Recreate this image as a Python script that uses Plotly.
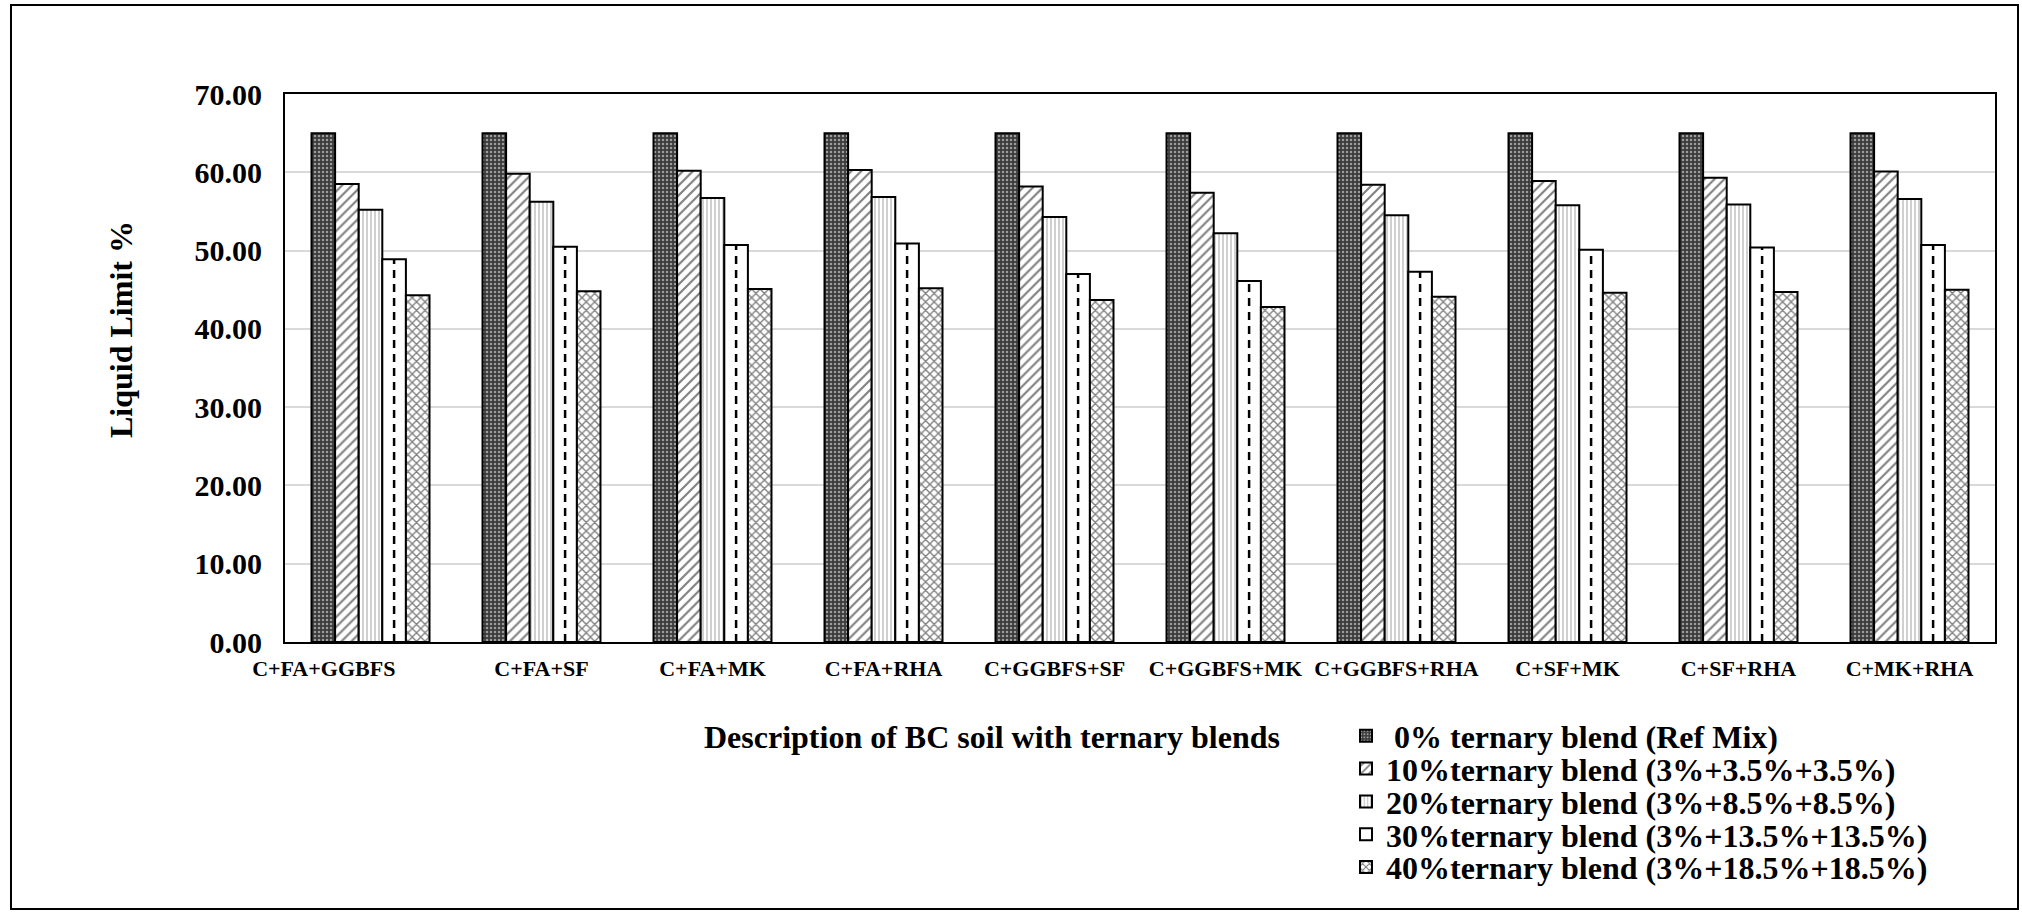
import plotly.graph_objects as go

# ---------------- data ----------------
categories = ["C+FA+GGBFS", "C+FA+SF", "C+FA+MK", "C+FA+RHA", "C+GGBFS+SF",
              "C+GGBFS+MK", "C+GGBFS+RHA", "C+SF+MK", "C+SF+RHA", "C+MK+RHA"]
ref_mix = [65.0, 65.0, 65.0, 65.0, 65.0, 65.0, 65.0, 65.0, 65.0, 65.0]
blend10 = [58.5, 59.8, 60.2, 60.3, 58.2, 57.4, 58.4, 58.9, 59.3, 60.1]
blend20 = [55.2, 56.25, 56.7, 56.85, 54.3, 52.2, 54.5, 55.8, 55.9, 56.6]
blend30 = [48.9, 50.5, 50.7, 50.9, 47.0, 46.1, 47.3, 50.1, 50.4, 50.7]
blend40 = [44.3, 44.8, 45.1, 45.2, 43.7, 42.8, 44.1, 44.6, 44.7, 45.0]
series_names = ["\u00a00% ternary blend (Ref Mix)",
                "10%ternary blend (3%+3.5%+3.5%)",
                "20%ternary blend (3%+8.5%+8.5%)",
                "30%ternary blend (3%+13.5%+13.5%)",
                "40%ternary blend (3%+18.5%+18.5%)"]
y_tick_values = [0, 10, 20, 30, 40, 50, 60, 70]
x_title = "Description of BC soil with ternary blends"
y_title = "Liquid Limit %"

# ---------------- layout constants (pixels) ----------------
W, H = 2022, 912
# plot area wanted in page pixels: x 285..1995, y 94..642
ML, MT = 285, 94
MR = W - 1995
MB = H - 642
PW, PH = W - ML - MR, H - MT - MB
BARGAP = 0.31
FONT = "Liberation Serif, Times New Roman, serif"


def px_x(px):
    return (px - ML) / PW


def px_y(py):
    return (H - MB - py) / PH


series = [ref_mix, blend10, blend20, blend30, blend40]
patterns = [
    dict(shape=".", fgcolor="white", bgcolor="#3c3c3c", size=4, solidity=0.3),
    dict(shape="/", fgcolor="black", bgcolor="white", size=7, solidity=0.3),
    dict(shape="|", fgcolor="#8a8a8a", bgcolor="white", size=4, solidity=0.4),
    dict(shape="", fgcolor="black", bgcolor="white"),
    dict(shape="x", fgcolor="black", bgcolor="white", size=6, solidity=0.4),
]
legend_ids = ["legend", "legend2", "legend3", "legend4", "legend5"]

xs = list(range(len(categories)))
fig = go.Figure()
for k, (vals, name, pat) in enumerate(zip(series, series_names, patterns)):
    fig.add_trace(go.Bar(
        x=xs, y=vals, name=name,
        marker=dict(color="white", pattern=pat, line=dict(color="black", width=2)),
        legend=legend_ids[k],
    ))

# dashed centre line inside the 30% bars
nser = len(series)
w = (1 - BARGAP) / nser
dx, dy = [], []
for i, v in zip(xs, blend30):
    xc = i + (3 - (nser - 1) / 2) * w
    dx += [xc, xc, None]
    dy += [0, v, None]
fig.add_trace(go.Scatter(x=dx, y=dy, mode="lines", showlegend=False, hoverinfo="skip",
                         line=dict(color="black", width=2.5, dash="8px,6px")))

ticktext = [categories[0] + "\u00a0" * 17] + categories[1:]

fig.update_layout(
    width=W, height=H,
    margin=dict(l=ML, r=MR, t=MT, b=MB, autoexpand=False),
    paper_bgcolor="white", plot_bgcolor="white",
    barmode="group", bargap=BARGAP, bargroupgap=0,
    font=dict(family=FONT, color="black"),
    xaxis=dict(range=[-0.5, len(categories) - 0.5], tickvals=xs, ticktext=ticktext,
               tickfont=dict(family=FONT, size=22, weight="bold", color="black"),
               showline=True, mirror=True, linecolor="black", linewidth=2,
               showgrid=False, zeroline=False, ticks="", ticklabelstandoff=6,
               automargin=False),
    yaxis=dict(range=[0, 70], tickvals=y_tick_values, tickformat=".2f",
               tickfont=dict(family=FONT, size=30, weight="bold", color="black"),
               showline=True, mirror=True, linecolor="black", linewidth=2,
               showgrid=True, gridcolor="#d9d9d9", gridwidth=2, zeroline=False,
               ticks="", ticklabelstandoff=15, automargin=False),
    showlegend=True,
)

row0 = 736.0
row_step = 32.8
for k, lid in enumerate(legend_ids):
    fig.update_layout({lid: dict(
        x=px_x(1346), y=px_y(row0 + k * row_step), xanchor="left", yanchor="middle",
        xref="paper", yref="paper", bgcolor="rgba(0,0,0,0)", borderwidth=0,
        font=dict(family=FONT, size=32, weight="bold", color="black"),
        itemsizing="constant",
    )})

fig.add_annotation(x=px_x(121), y=px_y(330), xref="paper", yref="paper",
                   xanchor="center", yanchor="middle",
                   text=y_title, textangle=-90, showarrow=False,
                   font=dict(family=FONT, size=32, weight="bold", color="black"))
fig.add_annotation(x=px_x(992), y=px_y(737), xref="paper", yref="paper",
                   xanchor="center", yanchor="middle",
                   text=x_title, showarrow=False,
                   font=dict(family=FONT, size=32, weight="bold", color="black"))

# outer frame of the chart
fig.add_shape(type="rect", xref="paper", yref="paper",
              x0=px_x(11), x1=px_x(2018), y0=px_y(909), y1=px_y(5),
              line=dict(color="black", width=2), fillcolor="rgba(0,0,0,0)", layer="below")

page_css = ("document.documentElement.style.margin='0';"
            "document.body.style.margin='0';"
            "document.body.style.overflow='hidden';"
            "document.documentElement.style.overflow='hidden';")
fig.write_html("out.html", post_script=page_css, config={"displayModeBar": False})
